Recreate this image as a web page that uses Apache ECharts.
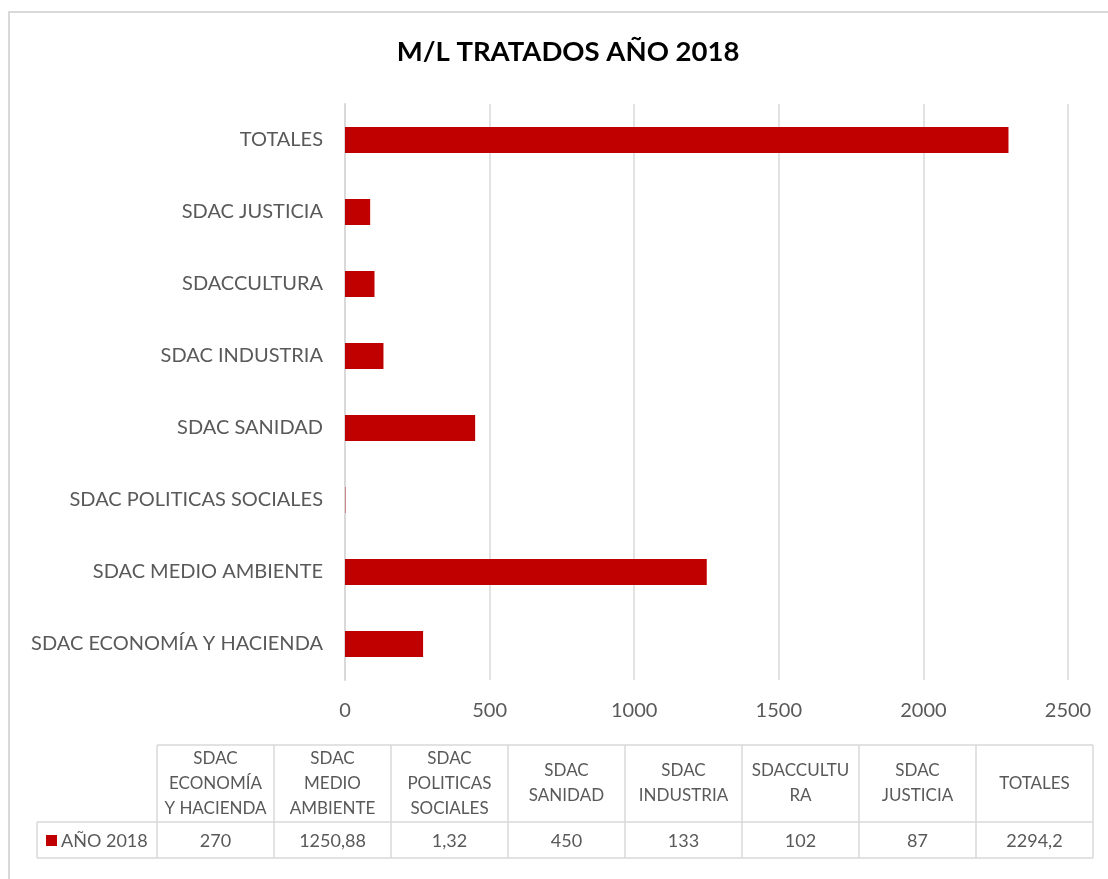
<!DOCTYPE html>
<html>
<head>
<meta charset="utf-8">
<title>M/L TRATADOS AÑO 2018</title>
<script src="https://cdn.jsdelivr.net/npm/echarts@6/dist/echarts.min.js"></script>
<style>
  html, body { margin: 0; padding: 0; background: #fff; }
  #chart { width: 1108px; height: 879px; }
</style>
</head>
<body>
<div id="chart"></div>
<script>
// datos
const categories = [
  'SDAC ECONOMÍA Y HACIENDA',
  'SDAC MEDIO AMBIENTE',
  'SDAC POLITICAS SOCIALES',
  'SDAC SANIDAD',
  'SDAC INDUSTRIA',
  'SDACCULTURA',
  'SDAC JUSTICIA',
  'TOTALES'
];
// cabeceras de la tabla tal como se parten en la imagen
const tableHeaders = [
  'SDAC\nECONOMÍA\nY HACIENDA',
  'SDAC\nMEDIO\nAMBIENTE',
  'SDAC\nPOLITICAS\nSOCIALES',
  'SDAC\nSANIDAD',
  'SDAC\nINDUSTRIA',
  'SDACCULTU\nRA',
  'SDAC\nJUSTICIA',
  'TOTALES'
];
const values2018 = [270, 1250.88, 1.32, 450, 133, 102, 87, 2294.2];
const seriesName = 'AÑO 2018';
const xTicks = [0, 500, 1000, 1500, 2000, 2500];

const FONT = 'Lato, "Open Sans", sans-serif';
const TEXT = '#595959';
const LINE = '#d9d9d9';
const RED = '#c00000';

const chart = echarts.init(document.getElementById('chart'));

// tabla de datos debajo del eje
const tLeft = 157, colW = 117, tTop = 745, tMid = 822, tBottom = 858, lblLeft = 37;
const tRight = tLeft + colW * tableHeaders.length;
const fmt = v => String(v).replace('.', ',');

const graphics = [
  {
    type: 'rect',
    shape: { x: 9, y: 12, width: 1200, height: 1000 },
    style: { fill: 'none', stroke: LINE, lineWidth: 2 },
    silent: true
  }
];
const hline = (x1, x2, y) => graphics.push({
  type: 'line', shape: { x1, y1: y, x2, y2: y }, style: { stroke: LINE, lineWidth: 1.5 }, silent: true
});
const vline = (x, y1, y2) => graphics.push({
  type: 'line', shape: { x1: x, y1, x2: x, y2 }, style: { stroke: LINE, lineWidth: 1.5 }, silent: true
});
hline(tLeft, tRight, tTop);
hline(lblLeft, tRight, tMid);
hline(lblLeft, tRight, tBottom);
vline(lblLeft, tMid, tBottom);
for (let i = 0; i <= tableHeaders.length; i++) {
  vline(tLeft + colW * i, tTop, tBottom);
}
tableHeaders.forEach((h, i) => {
  const cx = tLeft + colW * i + colW / 2;
  graphics.push({
    type: 'text',
    x: cx, y: (tTop + tMid) / 2,
    style: { text: h, fill: TEXT, font: '17px ' + FONT, align: 'center', verticalAlign: 'middle', lineHeight: 25 },
    silent: true
  });
  graphics.push({
    type: 'text',
    x: cx, y: (tMid + tBottom) / 2 + 1,
    style: { text: fmt(values2018[i]), fill: TEXT, font: '18px ' + FONT, align: 'center', verticalAlign: 'middle' },
    silent: true
  });
});
graphics.push({
  type: 'rect', shape: { x: 46, y: 835, width: 11, height: 11 }, style: { fill: RED }, silent: true
});
graphics.push({
  type: 'text', x: 61, y: (tMid + tBottom) / 2 + 1,
  style: { text: seriesName, fill: TEXT, font: '18px ' + FONT, align: 'left', verticalAlign: 'middle' },
  silent: true
});

const option = {
  backgroundColor: '#fff',
  animation: false,
  title: {
    text: 'M/L TRATADOS AÑO 2018',
    left: 563,
    top: 33,
    textAlign: 'center',
    textStyle: { fontFamily: FONT, fontSize: 27.5, fontWeight: 'bold', color: '#000' }
  },
  grid: { left: 345, right: 40, top: 104, bottom: 199, containLabel: false },
  xAxis: {
    type: 'value',
    min: xTicks[0],
    max: xTicks[xTicks.length - 1],
    interval: xTicks[1] - xTicks[0],
    axisLine: { show: false },
    axisTick: { show: false },
    axisLabel: { color: TEXT, fontFamily: FONT, fontSize: 20, margin: 21, formatter: v => String(v) },
    splitLine: { show: true, lineStyle: { color: LINE, width: 1.5 } }
  },
  yAxis: {
    type: 'category',
    data: categories,
    axisLine: { show: true, lineStyle: { color: LINE, width: 2 } },
    axisTick: { show: false },
    axisLabel: { color: TEXT, fontFamily: FONT, fontSize: 20, margin: 22 }
  },
  series: [
    {
      name: seriesName,
      type: 'bar',
      data: values2018,
      barWidth: 26,
      itemStyle: { color: RED }
    }
  ],
  graphic: graphics
};
chart.setOption(option);
</script>
</body>
</html>
